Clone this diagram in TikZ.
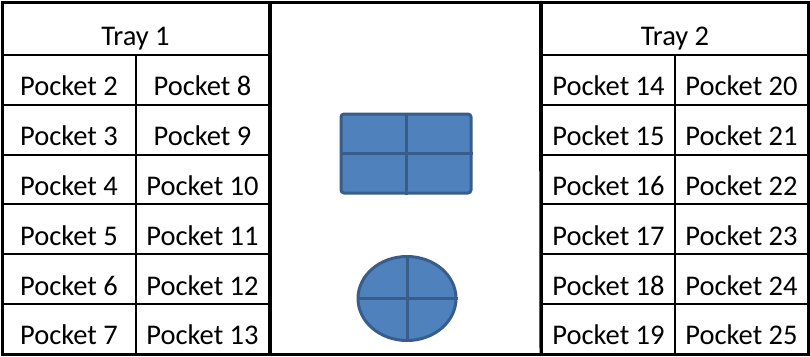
\documentclass[tikz,border=0pt]{standalone}
\usepackage{fontspec}
\setmainfont{Carlito}
\usepackage{tikz}
\usetikzlibrary{shapes.geometric}

\definecolor{trayblue}{RGB}{79,129,189}
\definecolor{trayedge}{RGB}{56,93,138}

\tikzset{
  cell/.style={draw,line width=2pt,inner sep=0pt,minimum width=133pt,minimum height=49.8pt,
    text height=40.8pt,text depth=9pt,font=\fontsize{28.5}{30}\selectfont},
  head/.style={cell,minimum width=267pt,minimum height=53pt,text height=43pt,text depth=10pt},
  part/.style={fill=trayblue,draw=trayedge,line width=3pt,inner sep=0pt}
}

\begin{document}
\begin{tikzpicture}[x=1pt,y=-1pt]
  \useasboundingbox (0,0) rectangle (810,356);
  % trays
  \node[head] (t1) at (135.5,28.5) {Tray 1};
  \node[head] (t2) at (675,28.5) {Tray 2};
  \foreach \r in {0,...,5} {
    \pgfmathtruncatemacro{\a}{2+\r}
    \pgfmathtruncatemacro{\b}{8+\r}
    \pgfmathtruncatemacro{\c}{14+\r}
    \pgfmathtruncatemacro{\d}{20+\r}
    \node[cell] (p\a) at (69,79.9+49.83*\r) {Pocket \a};
    \node[cell] (p\b) at (202.5,79.9+49.83*\r) {Pocket \b};
    \node[cell] (p\c) at (608.5,79.9+49.83*\r) {Pocket \c};
    \node[cell] (p\d) at (741.5,79.9+49.83*\r) {Pocket \d};
  }
  % frame
  \draw[line width=3pt] (2,2) rectangle (808,354);
  \draw[line width=3pt] (t1.north east) -- (p13.south east);
  \draw[line width=3pt] (t2.north west) -- (p19.south west);
  % middle shapes
  \node[part,rectangle,rounded corners=3pt,minimum width=130pt,minimum height=79pt] (box) at (406,153.5) {};
  \draw[trayedge,line width=3pt] (box.north) -- (box.south);
  \draw[trayedge,line width=3pt] (box.west) -- (box.east);
  \node[part,ellipse,minimum width=98pt,minimum height=84pt] (dish) at (407,298.5) {};
  \draw[trayedge,line width=3pt] (dish.north) -- (dish.south);
  \draw[trayedge,line width=3pt] (dish.west) -- (dish.east);
\end{tikzpicture}
\end{document}
